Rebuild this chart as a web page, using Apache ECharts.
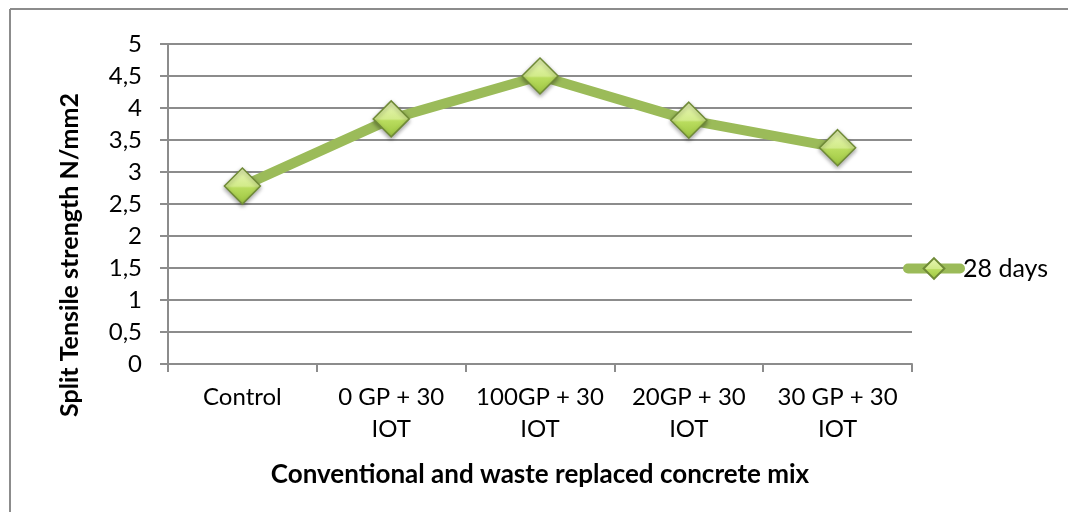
<!DOCTYPE html>
<html><head><meta charset="utf-8">
<script src="https://cdn.jsdelivr.net/npm/echarts@6/dist/echarts.min.js"></script>
<style>html,body{margin:0;padding:0;background:#fff}#c{width:1068px;height:512px}</style>
</head><body><div id="c"></div>
<script>
const categories = ["Control", "0 GP + 30\nIOT", "100GP + 30\nIOT", "20GP + 30\nIOT", "30 GP + 30\nIOT"];
const values28 = [2.78, 3.83, 4.5, 3.81, 3.38];
const seriesName = "28 days";
const yTitle = "Split Tensile strength N/mm2";
const xTitle = "Conventional and waste replaced concrete mix";

const FONT = "Lato";
const chart = echarts.init(document.getElementById('c'), null, {renderer: 'canvas'});
chart.setOption({
  animation: false,
  textStyle: {fontFamily: FONT},
  grid: {left: 168, right: 156, top: 44, bottom: 148},
  graphic: [
    {type: 'line', shape: {x1: 10, y1: 9, x2: 1068, y2: 9}, style: {stroke: '#8c8c8c', lineWidth: 2}},
    {type: 'line', shape: {x1: 10, y1: 9, x2: 10, y2: 512}, style: {stroke: '#8c8c8c', lineWidth: 2}},
    {type: 'text', x: 70, y: 255, rotation: Math.PI / 2,
      style: {text: yTitle, align: 'center', verticalAlign: 'middle',
        font: 'bold 25px Lato', fill: '#000'}}
  ],
  legend: {
    left: 898, top: 251, itemWidth: 52, itemHeight: 26, itemGap: 0,
    lineStyle: {width: 10, color: '#9bbb59', cap: 'round'},
    textStyle: {fontFamily: FONT, fontSize: 25, color: '#000', padding: [0, 0, 0, -2]},
    data: [seriesName]
  },
  xAxis: {
    type: 'category', data: categories, boundaryGap: true,
    name: xTitle, nameLocation: 'middle', nameGap: 98,
    nameTextStyle: {fontFamily: FONT, fontSize: 26, fontWeight: 'bold', color: '#000'},
    axisLine: {lineStyle: {color: '#8c8c8c', width: 2}},
    axisTick: {show: true, length: 8, lineStyle: {color: '#8c8c8c', width: 2}},
    axisLabel: {fontFamily: FONT, fontSize: 24, color: '#000', margin: 17, lineHeight: 32, interval: 0}
  },
  yAxis: {
    type: 'value', min: 0, max: 5, interval: 0.5,
    axisLine: {show: true, lineStyle: {color: '#8c8c8c', width: 2}},
    axisTick: {show: true, length: 8, lineStyle: {color: '#8c8c8c', width: 2}},
    splitLine: {lineStyle: {color: '#8c8c8c', width: 2}},
    axisLabel: {fontFamily: FONT, fontSize: 24, color: '#000', margin: 26,
      formatter: v => String(v).replace('.', ',')}
  },
  series: [{
    name: seriesName, type: 'line', data: values28,
    lineStyle: {color: '#9bbb59', width: 10},
    symbol: 'diamond', symbolSize: 36,
    itemStyle: {
      color: new echarts.graphic.LinearGradient(0, 0, 0, 1, [
        {offset: 0, color: '#eaf7b8'},
        {offset: 0.5, color: '#d2eb8a'},
        {offset: 0.55, color: '#b9dc5e'},
        {offset: 1, color: '#9bc43e'}
      ]),
      borderColor: '#6f8a36', borderWidth: 1.5,
      shadowColor: 'rgba(0,0,0,0.35)', shadowBlur: 4, shadowOffsetY: 2
    },
    z: 3
  }]
});
</script></body></html>
